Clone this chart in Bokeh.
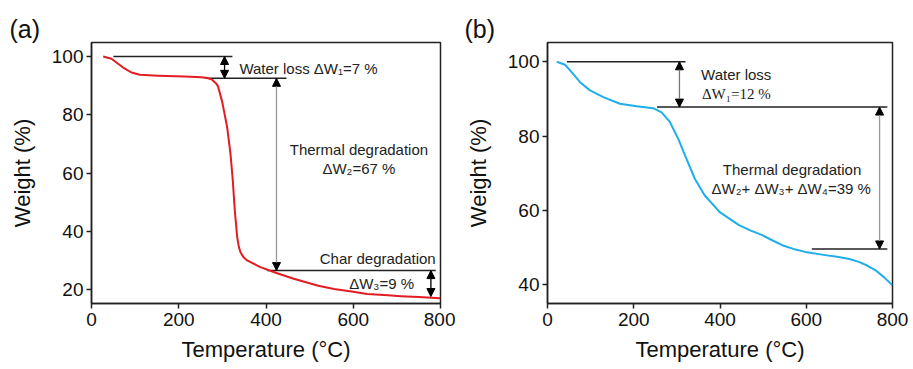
from bokeh.plotting import figure
from bokeh.layouts import row
from bokeh.models import Range1d, Arrow, NormalHead
from bokeh.embed import file_html
from bokeh.resources import INLINE

# ---- Panel (a) data ----
temp_a = [26.8, 45.8, 61, 76.4, 91.7, 110.8, 152.8, 213.9, 252, 265, 275, 284, 290, 299.5, 311,
          318.6, 323.9, 328.5, 334, 337.5, 341.5, 348, 356.8, 387, 425.6, 463.7, 520, 556, 600, 632, 680, 709, 750, 800]
weight_a = [100, 99.2, 97.5, 95.8, 94.5, 93.7, 93.4, 93.1, 92.9, 92.6, 92.2, 91.0, 89.8, 84.5, 75.7,
            66.6, 57.4, 47.1, 38.0, 34.8, 32.8, 31.2, 30.0, 27.7, 25.6, 23.7, 21.3, 20.2, 19.2, 18.5, 18.0, 17.7, 17.4, 17.0]

# ---- Panel (b) data ----
temp_b = [21.5, 40.8, 56, 75.5, 98.6, 129.5, 168, 206.7, 245, 264.5, 283.7, 303, 322, 341.6, 364.7,
          399.4, 444, 470, 498, 520, 544, 570, 598, 640, 675, 700, 722, 740, 760, 780, 800]
weight_b = [100, 99.2, 97.2, 94.5, 92.3, 90.5, 88.7, 88.0, 87.5, 86.4, 83.8, 79.3, 73.9, 68.5, 64.0,
            59.5, 56.0, 54.6, 53.3, 52.0, 50.6, 49.6, 48.8, 48.0, 47.4, 46.9, 46.1, 45.2, 43.9, 42.0, 39.8]

x_ticks = [0, 200, 400, 600, 800]
y_ticks_a = [20, 40, 60, 80, 100]
y_ticks_b = [40, 60, 80, 100]

# annotation levels (a)
hl_a_y = [100, 92.5, 26.5]
hl_a_x0 = [50, 261, 403]
hl_a_x1 = [323, 447, 789]
arr_a = [  # x, y_top, y_bottom, color
    (305, 100, 92.5, "black"),
    (424, 92.5, 26.5, "#9a9a9a"),
    (778, 26.5, 17.6, "black"),
]
# annotation levels (b)
hl_b_y = [100, 87.8, 49.6]
hl_b_x0 = [45, 254, 613]
hl_b_x1 = [320, 788, 788]
arr_b = [
    (306, 100, 87.8, "#777777"),
    (770, 87.8, 49.6, "#9a9a9a"),
]

FONT = "Liberation Sans"


def base_fig(y0, y1, yticks, wid, bl, br, tag):
    p = figure(width=wid, height=369, x_range=Range1d(0, 800), y_range=Range1d(y0, y1),
               output_backend="svg", toolbar_location=None, title=tag,
               min_border_left=bl, min_border_right=br, min_border_top=42, min_border_bottom=66)
    p.title.text_font = FONT
    p.title.text_font_size = "25px"
    p.title.text_font_style = "normal"
    p.title.text_color = "#111111"
    p.title.align = "left"
    p.title.offset = -(bl - 9)
    p.title.standoff = 0
    p.grid.visible = False
    p.outline_line_color = "#222222"
    p.outline_line_width = 1.5
    p.outline_line_alpha = 1.0
    for ax in (p.xaxis[0], p.yaxis[0]):
        ax.axis_line_width = 1.5
        ax.axis_line_color = "#222222"
        ax.major_tick_line_color = "#222222"
        ax.minor_tick_line_color = "#222222"
        ax.major_tick_line_width = 1.5
        ax.minor_tick_line_width = 1.2
        ax.major_tick_out = 5
        ax.major_tick_in = 0
        ax.minor_tick_out = 0
        ax.minor_tick_in = 4
        ax.major_label_text_font = FONT
        ax.major_label_text_font_size = "19px"
        ax.major_label_text_color = "#111111"
        ax.axis_label_text_font = FONT
        ax.axis_label_text_font_size = "22px"
        ax.axis_label_text_font_style = "normal"
        ax.axis_label_text_color = "#111111"
    p.xaxis.ticker = x_ticks
    p.yaxis.ticker = yticks
    p.xaxis[0].ticker.num_minor_ticks = 2
    p.yaxis[0].ticker.num_minor_ticks = 2
    p.xaxis.axis_label = "Temperature (°C)"
    p.yaxis.axis_label = "Weight (%)"
    p.xaxis.major_label_standoff = 4
    p.yaxis.major_label_standoff = 3
    p.xaxis.axis_label_standoff = 8
    p.yaxis.axis_label_standoff = 14
    return p


def add_arrows(p, arrs):
    for x, yt, yb, col in arrs:
        p.add_layout(Arrow(start=NormalHead(size=8, fill_color="black", line_color="black"),
                           end=NormalHead(size=8, fill_color="black", line_color="black"),
                           x_start=x, y_start=yt, x_end=x, y_end=yb,
                           line_color=col, line_width=1.3))


TXT = dict(text_font_size="15px", text_baseline="middle", text_color="#222222")

# ---------- (a) ----------
pa = base_fig(15.2, 104.8, y_ticks_a, 455, 91, 15, "(a)")
pa.segment(x0=hl_a_x0, y0=hl_a_y, x1=hl_a_x1, y1=hl_a_y, line_color="#222222", line_width=1.5)
add_arrows(pa, arr_a)
pa.line(temp_a, weight_a, line_color="#e31b23", line_width=2, line_join="round")
pa.text(x=[339], y=[95.9], text=["Water loss \u0394W\u2081=7 %"], text_font={"value": FONT},
        text_align="left", **TXT)
pa.text(x=[613, 613], y=[68, 61.5], text=["Thermal degradation", "\u0394W\u2082=67 %"],
        text_font={"value": FONT}, text_align="center", **TXT)
pa.text(x=[789], y=[30.6], text=["Char degradation"], text_font={"value": FONT},
        text_align="right", **TXT)
pa.text(x=[665], y=[22], text=["\u0394W\u2083=9 %"], text_font={"value": FONT},
        text_align="center", **TXT)

# ---------- (b) ----------
pb = base_fig(34.9, 105.2, y_ticks_b, 458, 92, 21, "(b)")
pb.segment(x0=hl_b_x0, y0=hl_b_y, x1=hl_b_x1, y1=hl_b_y, line_color="#222222", line_width=1.5)
add_arrows(pb, arr_b)
pb.line(temp_b, weight_b, line_color="#1eaeea", line_width=2, line_join="round")
pb.text(x=[356], y=[96.6], text=["Water loss"], text_font={"value": FONT},
        text_align="left", **TXT)
pb.text(x=[358], y=[91.4], text=["\u0394W\u2081=12 %"], text_font={"value": "Liberation Serif"},
        text_align="left", **TXT)
pb.text(x=[567, 565], y=[70.9, 65.8],
        text=["Thermal degradation", "\u0394W\u2082+ \u0394W\u2083+ \u0394W\u2084=39 %"],
        text_font={"value": FONT}, text_align="center", **TXT)

layout = row(pa, pb, spacing=0)
open("out.html", "w").write(file_html(layout, INLINE))
